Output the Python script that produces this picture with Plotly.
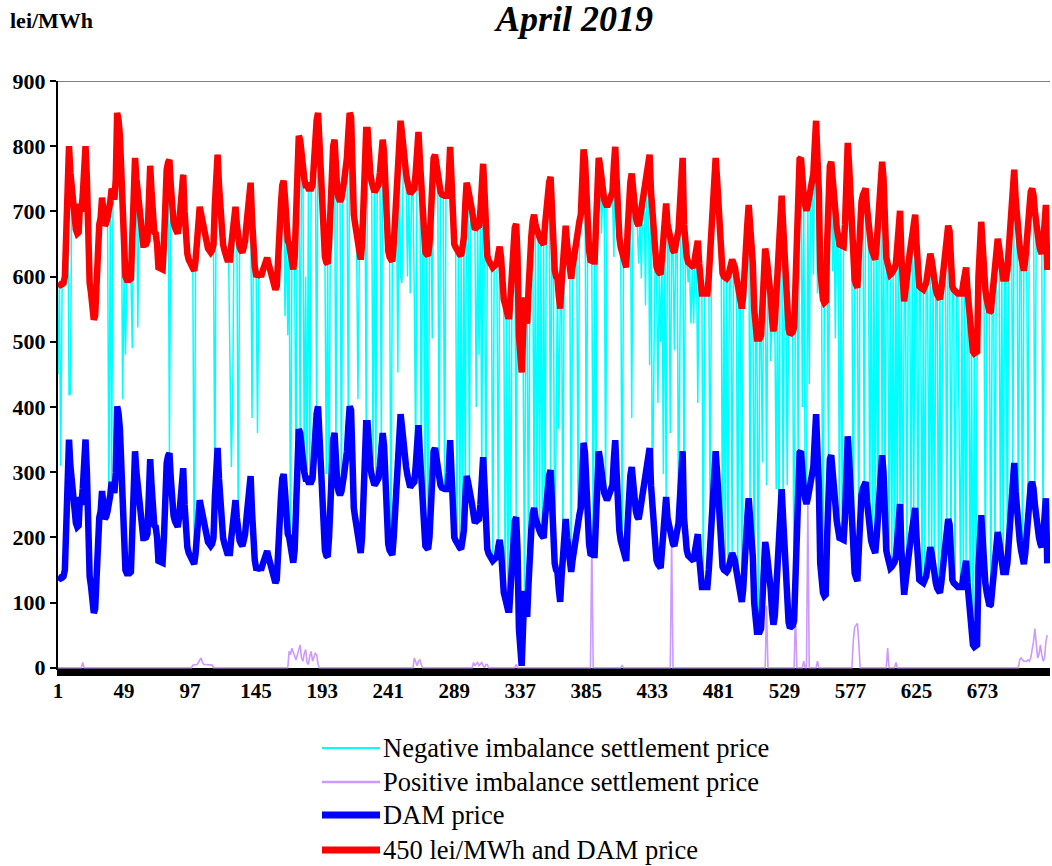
import plotly.graph_objects as go

# ---------------- DATA ----------------
# DAM price, lei/MWh, hourly for April 2019 (30 days x 24 hours)
dam_price = [
    140,138,137,138,140,150,240,335,350,310,280,255,235,222,216,218,262,250,275,345,350,300,200,140,
    125,105,84,90,135,228,230,240,271,250,228,232,240,248,265,285,278,268,300,401,390,366,290,222,
    153,150,145,144,145,147,200,290,332,300,280,250,222,205,199,199,200,205,260,320,280,222,218,216,
    200,164,162,161,161,200,280,314,325,329,290,250,233,225,218,216,230,270,306,306,250,199,185,176,
    170,165,160,159,175,193,230,257,245,230,222,205,195,193,190,187,190,199,260,320,337,290,251,225,
    199,190,180,176,176,176,200,230,250,257,230,205,195,190,187,195,205,230,260,285,294,240,176,165,
    153,152,152,153,153,160,170,178,179,170,160,152,150,140,130,135,193,230,260,290,297,270,230,205,
    200,180,165,161,180,260,330,366,360,335,320,300,290,290,285,285,285,290,330,370,390,401,350,280,
    240,193,180,172,170,200,280,320,350,360,310,280,270,265,270,280,297,315,332,370,401,395,300,245,
    230,211,195,180,176,200,280,340,375,375,330,308,295,285,280,283,288,291,310,340,360,340,260,205,
    190,180,175,173,200,240,280,308,360,389,370,340,320,308,295,285,277,280,285,285,310,350,372,330,
    280,230,190,187,184,182,200,260,320,332,337,320,300,285,280,276,274,274,274,274,300,349,300,205,
    200,195,193,188,184,182,195,211,260,294,285,275,268,250,235,222,225,228,228,250,300,323,280,215,
    182,175,170,164,164,166,168,170,185,196,180,140,115,107,95,89,89,130,170,200,225,231,180,60,
    15,3,60,118,95,78,130,190,211,235,245,230,220,216,210,205,200,199,230,262,280,295,303,240,
    190,160,150,147,120,101,140,180,215,228,200,176,160,147,165,182,200,216,225,235,245,300,345,330,
    260,211,190,175,173,173,173,230,310,332,320,308,285,268,262,257,262,268,275,280,320,349,300,230,
    210,195,187,175,166,164,220,280,295,308,280,250,240,232,228,240,255,268,285,300,320,330,337,280,
    240,222,190,165,159,155,153,180,205,240,262,230,216,205,195,190,187,195,210,222,270,320,332,230,
    193,180,172,170,168,165,164,180,195,205,170,135,124,124,124,124,124,150,190,222,260,300,332,300,
    260,222,190,155,150,148,147,150,160,172,176,170,164,150,135,120,105,101,120,170,193,230,260,230,
    200,170,100,60,55,55,55,60,120,180,193,180,164,150,120,85,66,80,120,147,190,240,274,230,
    180,135,100,70,61,62,65,72,150,250,303,330,332,290,274,260,251,260,270,280,295,308,350,389,
    330,280,160,124,115,110,112,200,314,320,326,290,260,251,225,205,199,198,197,196,230,300,355,320,
    274,200,153,145,138,133,180,250,265,275,282,285,255,228,210,195,187,180,176,200,240,274,300,326,
    300,220,180,170,160,153,155,158,162,170,210,240,251,180,125,112,130,155,165,185,200,215,235,245,
    200,150,135,133,130,130,135,140,155,175,185,175,155,141,130,122,118,115,130,155,175,190,210,228,
    220,170,135,130,127,125,124,124,124,124,140,155,164,130,100,80,55,35,32,34,35,150,216,234,
    200,150,130,115,100,95,97,120,150,170,190,208,195,170,150,147,147,147,160,190,222,260,290,314,
    270,230,211,195,180,165,159,175,210,245,265,280,285,275,250,228,210,200,190,185,200,239,260,160,
]

# Fixed surcharge of the red series ("450 lei/MWh and DAM price")
surcharge = 450

# Negative imbalance settlement price: hours where it falls to the DAM price
neg_at_dam_hours = [
    38, 40, 82, 100, 115, 132, 170, 174, 177, 180, 182, 184, 189, 198, 203, 207, 212, 225, 230, 232,
    236, 243, 261, 265, 268, 270, 278, 282, 291, 293, 295, 297, 300, 309, 312, 317, 321, 326, 328,
    330, 334, 340, 343, 347, 349, 351, 353, 355, 359, 362, 368, 374, 379, 385, 390, 392, 399, 411,
    433, 443, 452, 456, 470, 475, 484, 486, 488, 491, 495, 498, 507, 510, 525, 528, 536, 539, 545,
    557, 561, 569, 571, 579, 583, 587, 591, 593, 595, 597, 600, 602, 605, 607, 609, 611, 613, 615,
    618, 621, 623, 626, 629, 631, 634, 636, 638, 641, 643, 647, 650, 653, 657, 659, 661, 664, 666,
    668, 675, 679, 682, 686, 688, 691, 695, 699, 702, 706, 711, 717,
]
# Negative imbalance settlement price: hours with other (intermediate) values
neg_other_values = {
    1: 450, 3: 310, 9: 418, 10: 420, 48: 412, 50: 480, 55: 490, 59: 522, 126: 500, 127: 308,
    128: 420, 142: 383, 146: 360, 166: 539, 168: 510, 181: 600, 196: 297, 219: 412, 248: 453,
    250: 600, 251: 590, 255: 600, 257: 574, 260: 568, 273: 505, 305: 400, 307: 480, 363: 349,
    365: 366, 396: 666, 405: 630, 418: 383, 423: 620, 425: 597, 428: 556, 431: 464, 434: 455,
    437: 406, 439: 500, 441: 297, 446: 360, 449: 487, 453: 499, 459: 591, 461: 528, 463: 528,
    466: 406, 504: 251, 513: 315, 516: 280, 519: 470, 523: 274, 531: 280, 542: 400, 544: 300,
    547: 435, 550: 603, 553: 574, 564: 608, 566: 505, 656: 285,
}

# Positive imbalance settlement price: non-zero hours (all others are 0)
pos_nonzero_values = {
    19: 8, 99: 4, 100: 4, 101: 5, 102: 5, 103: 8, 104: 12, 105: 15, 106: 8, 107: 5, 108: 5,
    109: 5, 110: 5, 111: 5, 112: 5, 113: 4,
    169: 25, 170: 20, 171: 30, 172: 22, 173: 18, 174: 12, 175: 20, 176: 28, 177: 35, 178: 15,
    179: 10, 180: 22, 181: 28, 182: 8, 183: 5, 184: 18, 185: 25, 186: 10, 187: 15, 188: 22,
    189: 20, 190: 5,
    260: 15, 261: 8, 262: 3, 263: 10, 264: 12, 265: 5,
    303: 8, 304: 3, 305: 6, 306: 8, 307: 3, 308: 5, 309: 8, 310: 3, 312: 5, 313: 5, 334: 5,
    389: 195, 411: 3, 447: 195, 516: 95, 537: 85, 543: 10, 546: 250, 553: 10,
    579: 40, 580: 62, 581: 65, 582: 68, 583: 40, 604: 30, 610: 8,
    700: 12, 701: 15, 702: 12, 703: 10, 704: 10, 705: 10, 706: 12, 707: 10, 708: 15, 709: 25,
    710: 40, 711: 60, 712: 30, 713: 15, 714: 20, 715: 35, 716: 20, 717: 10, 718: 15, 719: 40,
    720: 50,
}

x_tick_values = [1, 49, 97, 145, 193, 241, 289, 337, 385, 433, 481, 529, 577, 625, 673]
y_tick_values = [0, 100, 200, 300, 400, 500, 600, 700, 800, 900]

series_names = [
    "Negative imbalance settlement price",
    "Positive imbalance settlement price",
    "DAM price",
    "450 lei/MWh and DAM price",
]
series_colors = ["#00FFFF", "#CC99FF", "#0000FF", "#FF0000"]

# ---------------- BUILD SERIES ----------------
hours = list(range(1, len(dam_price) + 1))
dam_plus = [v + surcharge for v in dam_price]
neg_set = set(neg_at_dam_hours)
neg_price = []
for h, d, r in zip(hours, dam_price, dam_plus):
    if h in neg_other_values:
        neg_price.append(neg_other_values[h])
    elif h in neg_set:
        neg_price.append(d)
    else:
        neg_price.append(r)
pos_price = [pos_nonzero_values.get(h, 0) for h in hours]

FONT = "Liberation Serif, Times New Roman, serif"

fig = go.Figure()
fig.add_trace(go.Scatter(x=hours, y=neg_price, mode="lines", name=series_names[0],
                         line=dict(color=series_colors[0], width=1.5), showlegend=False))
fig.add_trace(go.Scatter(x=hours, y=pos_price, mode="lines", name=series_names[1],
                         line=dict(color=series_colors[1], width=1.6), showlegend=False))
fig.add_trace(go.Scatter(x=hours, y=dam_price, mode="lines", name=series_names[2],
                         line=dict(color=series_colors[2], width=6.5), showlegend=False))
fig.add_trace(go.Scatter(x=hours, y=dam_plus, mode="lines", name=series_names[3],
                         line=dict(color=series_colors[3], width=6.5), showlegend=False))

W, H = 1052, 866
L, R, T, B = 58, 2, 81, 196
PW, PH = W - L - R, H - T - B

def px_x(px):
    return (px - L) / PW

def px_y(py):
    return (H - B - py) / PH

fig.update_layout(
    width=W, height=H, autosize=False,
    margin=dict(l=L, r=R, t=T, b=B, autoexpand=False),
    paper_bgcolor="white", plot_bgcolor="white",
    showlegend=False,
    font=dict(family=FONT, color="black"),
    xaxis=dict(
        range=[1, 722], tickmode="array", tickvals=x_tick_values,
        ticktext=[str(v) for v in x_tick_values],
        ticks="", showgrid=False, zeroline=False, showline=False,
        ticklabelstandoff=6,
        tickfont=dict(family=FONT, size=21, color="black", weight="bold"),
        automargin=False,
    ),
    yaxis=dict(
        range=[-3.5, 900], tickmode="array", tickvals=y_tick_values,
        ticks="outside", ticklen=6, tickwidth=1.5, tickcolor="black",
        showgrid=False, zeroline=False,
        showline=True, linecolor="black", linewidth=2,
        tickfont=dict(family=FONT, size=22, color="black", weight="bold"),
        automargin=False,
    ),
)

# thick black base bar under the zero line
fig.add_shape(type="rect", xref="paper", yref="paper",
              x0=px_x(57), x1=1.0, y0=px_y(676), y1=px_y(668),
              fillcolor="black", line=dict(width=0), layer="below")

# top border line at 900
fig.add_shape(type="line", xref="paper", yref="y", x0=0, x1=1, y0=900, y1=900,
              line=dict(color="#808080", width=2))

# Title and unit label
fig.add_annotation(text="<b><i>April 2019</i></b>", xref="paper", yref="paper",
                   x=px_x(573), y=px_y(19), xanchor="center", yanchor="middle",
                   showarrow=False, font=dict(family=FONT, size=36, color="black"))
fig.add_annotation(text="<b>lei/MWh</b>", xref="paper", yref="paper",
                   x=px_x(8), y=px_y(20), xanchor="left", yanchor="middle",
                   showarrow=False, font=dict(family=FONT, size=22, color="black"))

# Manual legend
legend_rows = [748, 782, 815, 850]
legend_widths = [2, 2.5, 7, 7]
for name, color, lw, py in zip(series_names, series_colors, legend_widths, legend_rows):
    fig.add_shape(type="line", xref="paper", yref="paper",
                  x0=px_x(322), x1=px_x(380), y0=px_y(py), y1=px_y(py),
                  line=dict(color=color, width=lw))
    fig.add_annotation(text=name, xref="paper", yref="paper",
                       x=px_x(381), y=px_y(py), xanchor="left", yanchor="middle",
                       showarrow=False, font=dict(family=FONT, size=26.5, color="black"))

fig.write_html("out.html", config={"displayModeBar": False},
               post_script="document.body.style.margin='0px';document.body.style.overflow='hidden';")
